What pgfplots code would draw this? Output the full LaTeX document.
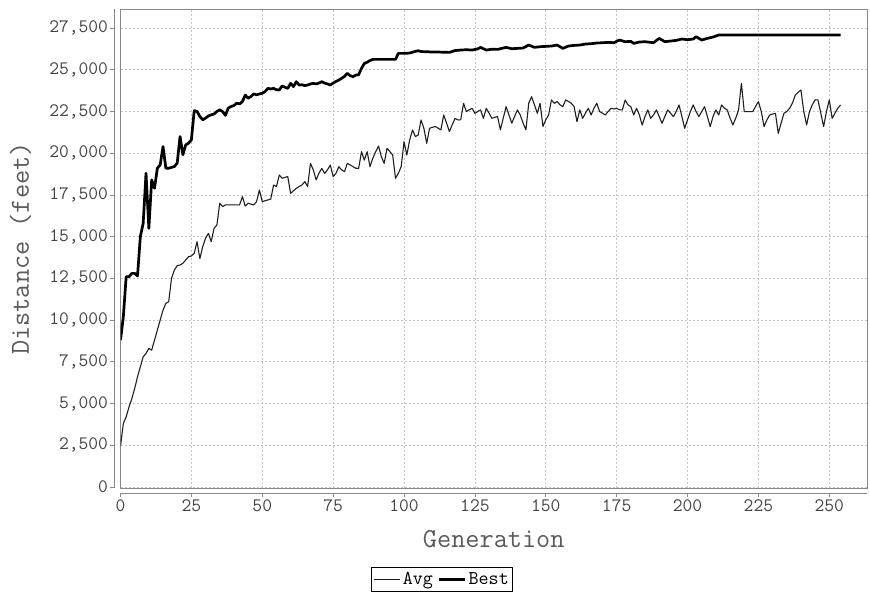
\documentclass[border=0pt]{standalone}
\usepackage{fontspec}
\usepackage{pgfplots}
\pgfplotsset{compat=1.18}
\usepackage{pgfplotstable}
\definecolor{txt}{HTML}{444444}
\definecolor{lbl}{HTML}{5A5A5A}
\definecolor{gridc}{HTML}{C4C4C4}
\definecolor{axc}{HTML}{888888}

\pgfplotstableread{
gen val
0 8800
1 10200
2 12600
3 12600
4 12800
5 12800
6 12650
7 15000
8 15800
9 18800
10 15500
11 18400
12 17900
13 19100
14 19300
15 20400
16 19100
17 19100
18 19150
19 19200
20 19400
21 21000
22 19900
23 20500
24 20600
25 20800
26 22550
27 22500
28 22200
29 22000
30 22100
31 22230
32 22300
33 22350
34 22500
35 22600
36 22500
37 22270
38 22700
39 22800
40 22850
41 23000
42 22950
43 23090
44 23485
45 23290
46 23400
47 23550
48 23500
49 23550
50 23590
51 23700
52 23885
53 23850
54 23885
55 23800
56 23790
57 24025
58 23950
59 23885
60 24185
61 23990
62 24285
63 24085
64 24100
65 24050
66 24085
67 24150
68 24185
69 24150
70 24200
71 24285
72 24200
73 24150
74 24085
75 24200
76 24300
77 24385
78 24485
79 24600
80 24785
81 24650
82 24585
83 24680
84 24700
85 25083
86 25380
87 25450
88 25550
89 25620
92 25620
97 25620
98 25980
100 25980
102 26000
104 26100
105 26140
106 26090
108 26080
110 26060
112 26060
114 26050
116 26040
118 26150
120 26180
122 26200
124 26180
126 26250
127 26340
129 26180
131 26230
133 26220
136 26340
138 26260
140 26280
142 26300
144 26480
146 26340
148 26380
150 26400
152 26420
154 26480
156 26280
158 26420
160 26460
162 26480
164 26540
166 26560
168 26600
170 26620
172 26640
174 26620
176 26780
178 26680
180 26700
181 26580
183 26660
185 26680
187 26640
188 26620
190 26880
192 26680
194 26720
196 26760
198 26840
200 26800
202 26840
203 26980
205 26780
207 26880
209 26960
211 27080
254 27080
}\bestdata

\pgfplotstableread{
gen val
0 2450
1 3800
2 4200
3 4800
4 5300
5 5900
6 6600
7 7200
8 7800
9 8000
10 8300
11 8200
12 8800
13 9400
14 10000
15 10600
16 11000
17 11100
18 12500
19 13000
20 13260
21 13300
22 13400
23 13600
24 13800
25 13840
26 14000
27 14700
28 13680
29 14400
30 14900
31 15200
32 14700
33 15500
34 15700
35 17000
36 16800
37 16900
38 16900
39 16900
40 16900
41 16900
42 16900
43 17395
44 16830
45 17000
46 16950
47 16900
48 17100
49 17795
50 17100
51 17150
52 17200
53 17250
54 18094
55 18000
56 18693
57 18500
58 18550
59 18600
60 17595
61 17750
62 17895
63 18000
64 18094
65 18300
66 18000
67 19390
68 19000
69 18400
70 18800
71 19090
72 18790
73 19000
74 19290
75 18600
76 18790
77 19190
78 19000
79 18890
80 19390
81 19300
82 19190
83 19100
84 19090
85 20090
86 19590
87 20090
88 19190
89 19700
90 20090
91 20430
92 19800
93 19390
94 20290
95 20100
96 19890
97 18494
98 18800
99 19190
100 20690
101 19890
102 20800
103 21390
104 21000
105 21090
106 21990
107 21500
108 20590
109 21490
110 21550
111 21600
112 21500
113 21400
114 22290
115 21800
116 21300
117 21700
118 22090
119 21990
120 22000
121 22987
122 22490
123 22600
124 22690
125 22390
126 22500
127 22590
128 22090
129 22690
130 22400
131 22090
132 22150
133 22190
134 21400
135 22100
136 22790
137 22300
138 21800
139 22200
140 22590
141 22290
142 21800
143 21400
144 23000
145 23385
146 22900
147 22390
148 22990
149 21600
150 22000
151 22290
152 23190
153 22990
154 23090
155 22900
156 22790
157 23190
158 23100
159 22990
160 22790
161 21890
162 22590
163 22090
164 22400
165 22690
166 22290
167 22700
168 22990
169 22490
170 22400
171 22290
172 22500
173 22690
174 22650
175 22690
176 22600
177 22590
178 23186
179 22900
180 22790
181 22290
182 22690
183 22300
184 21688
185 22200
186 22590
187 22090
188 22300
189 22590
190 22200
191 21790
192 22200
193 22590
194 22400
195 22190
196 22500
197 22890
198 22200
199 21490
200 22000
201 22490
202 22890
203 22500
204 22190
205 22500
206 22790
207 22200
208 21590
209 22200
210 22590
211 22290
212 22890
213 22700
214 22590
215 22100
216 21690
217 22100
218 22590
219 24185
220 22490
221 22490
222 22490
223 22490
224 22800
225 23090
226 22500
227 21590
228 22000
229 22290
230 22350
231 22390
232 21190
233 21800
234 22390
235 22500
236 22690
237 23000
238 23485
239 23650
240 23785
241 22500
242 21690
243 22490
244 22900
245 23200
246 23190
247 22400
248 21590
249 22500
250 23190
251 22090
252 22400
253 22700
254 22890
}\avgdata

\begin{document}
\begin{tikzpicture}[x=1pt,y=1pt]
\useasboundingbox (0,0) rectangle (870,594);
\begin{axis}[
  at={(120.5pt,106pt)}, anchor=south west,
  width=746.5pt, height=479pt, scale only axis,
  xmin=0, xmax=263.3, ymin=-60, ymax=28640,
  xtick={0,25,...,250}, ytick={0,2500,...,27500},
  scaled y ticks=false, scaled x ticks=false,
  /pgf/number format/assume math mode=true,
  /pgf/number format/fixed,
  /pgf/number format/1000 sep={,},
  grid=major,
  major grid style={gridc, dash pattern=on 2pt off 2pt, line width=0.7pt},
  axis line style={axc, line width=0.7pt},
  tick align=outside, tick pos=left,
  major tick length=4pt,
  xtick style={axc, line width=0.8pt, yshift=-5pt},
  ytick style={axc, line width=0.8pt, xshift=-6.5pt},
  tick label style={font=\ttfamily\fontsize{19}{21}\selectfont, text=txt},
  xticklabel style={yshift=-4pt},
  yticklabel style={xshift=-5pt},
  xlabel={Generation}, ylabel={Distance (feet)},
  label style={font=\ttfamily\fontsize{27.5}{32}\selectfont, text=lbl},
  xlabel style={at={(axis description cs:0.5,-0.107)}, anchor=center},
  ylabel style={at={(axis description cs:-0.134,0.5)}, anchor=center},
  legend columns=2,
  legend style={at={(axis description cs:0.431,-0.165)}, anchor=north,
    draw=black, line width=1.2pt, font=\ttfamily\fontsize{19.5}{21}\selectfont,
    inner xsep=2pt, inner ysep=3pt,
    /tikz/every even column/.append style={column sep=3pt}},
  legend image code/.code={\draw[#1] (0pt,0pt) -- (26pt,0pt);},
  line join=round,
]
\addplot[black!88, line width=1.1pt] table[x=gen, y=val] {\avgdata};
\addlegendentry{Avg}
\addplot[black, line width=2.7pt] table[x=gen, y=val] {\bestdata};
\addlegendentry{Best}
\end{axis}
\draw[axc, line width=0.8pt] (120.5,101) -- (867,101);
\draw[axc, line width=0.8pt] (114,106) -- (114,585);
\end{tikzpicture}
\end{document}
